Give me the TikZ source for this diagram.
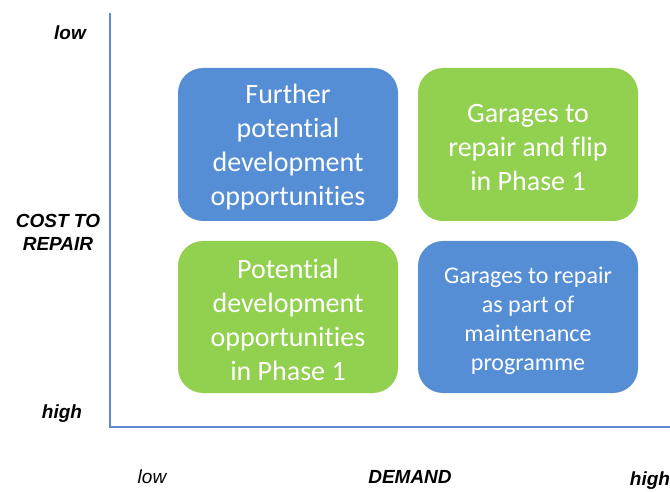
\documentclass[tikz,border=0pt]{standalone}
\usepackage{fontspec}
\setmainfont{Carlito}[Ligatures={NoCommon}]
\newfontfamily\arialfont{Liberation Sans}
\definecolor{boxblue}{RGB}{85,142,213}
\definecolor{boxgreen}{RGB}{146,208,80}
\definecolor{axisblue}{RGB}{95,140,205}
\begin{document}
\begin{tikzpicture}[x=1pt,y=-1pt,
  quad/.style={rounded corners=25pt,minimum width=220pt,inner sep=0pt},
  quadtext/.style={text=white,align=center,inner sep=0pt,font=\fontsize{28}{34}\selectfont},
  axlabel/.style={font=\arialfont\bfseries\itshape\fontsize{19}{23}\selectfont,align=center},
  axlow/.style={font=\arialfont\itshape\fontsize{19}{23}\selectfont}]
\useasboundingbox (0,0) rectangle (670,492);
% axes
\coordinate (top) at (110,13);
\coordinate (origin) at (110,427);
\coordinate (right) at (670,427);
\draw[axisblue,line width=1.3pt] (top) -- (origin) -- (right);
% quadrants
\node[quad,fill=boxblue,minimum height=153pt] (further) at (288,144.5) {};
\node[quad,fill=boxgreen,minimum height=153pt] (flip) at (528,144.5) {};
\node[quad,fill=boxgreen,minimum height=152pt] (potential) at (288,317) {};
\node[quad,fill=boxblue,minimum height=152pt] (maint) at (528,317) {};
\node[quadtext] (furthertext) at ([yshift=-3pt]further.center)
  {Further\\potential\\development\\opportunities};
\node[quadtext] (fliptext) at ([yshift=-3pt]flip.center)
  {Garages to\\repair and flip\\in Phase 1};
\node[quadtext] (potentialtext) at ([yshift=-3pt]potential.center)
  {Potential\\development\\opportunities\\in Phase 1};
\node[quadtext,font=\fontsize{24}{29}\selectfont] (mainttext) at ([yshift=-3.5pt]maint.center)
  {Garages to repair\\as part of\\maintenance\\programme};
% labels
\node[axlabel] (ylow) at (70,33) {low};
\node[axlabel] (cost) at (58,232) {COST TO\\REPAIR};
\node[axlabel] (yhigh) at (62,414) {high};
\node[axlow] (xlow) at (152,477) {low};
\node[axlabel] (demand) at (410,477) {DEMAND};
\node[axlabel] (xhigh) at (650,481) {high};
\end{tikzpicture}
\end{document}
